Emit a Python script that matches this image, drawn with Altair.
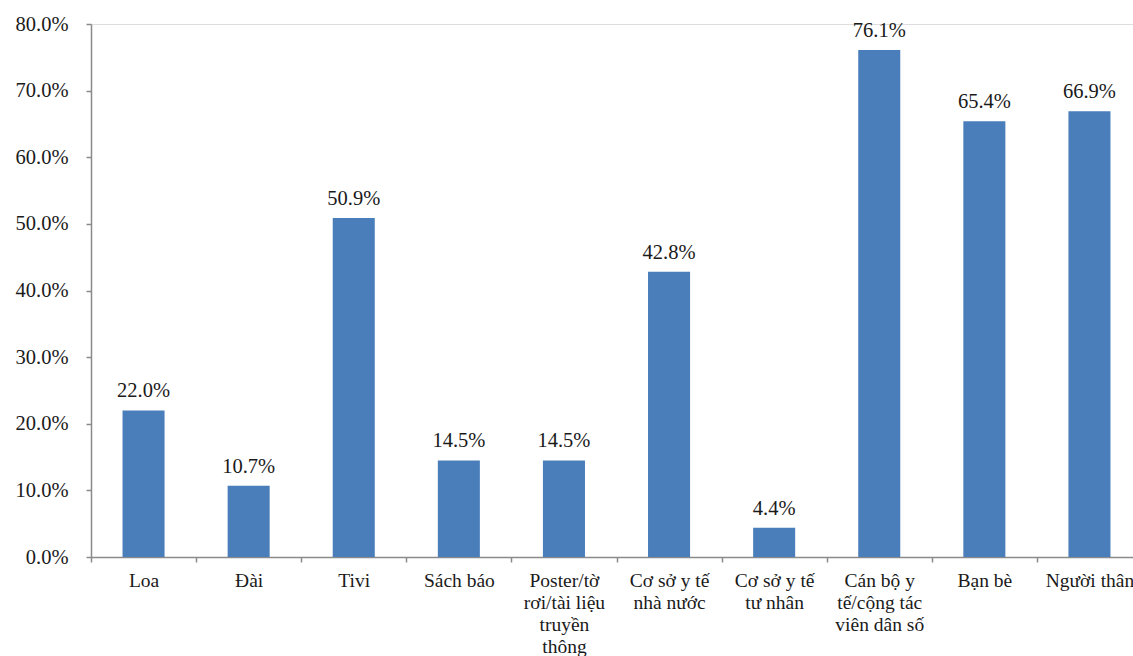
import altair as alt
import pandas as pd

# Information sources and share of respondents (%)
categories = [
    "Loa",
    "Đài",
    "Tivi",
    "Sách báo",
    "Poster/tờ\nrơi/tài liệu\ntruyền\nthông",
    "Cơ sở y tế\nnhà nước",
    "Cơ sở y tế\ntư nhân",
    "Cán bộ y\ntế/cộng tác\nviên dân số",
    "Bạn bè",
    "Người thân",
]
values = [22.0, 10.7, 50.9, 14.5, 14.5, 42.8, 4.4, 76.1, 65.4, 66.9]

df = pd.DataFrame({"source": categories, "pct": values})
df["label"] = df["pct"].map(lambda v: f"{v:.1f}%")

FONT = "Liberation Serif"
AXIS_GRAY = "#8a8a8a"
TEXT = "#1a1a1a"

# the category axis runs a little past the right edge of the page
x_scale = alt.Scale(paddingInner=0, paddingOuter=0, range=[0, 1051])

x = alt.X(
    "source:N",
    sort=categories,
    scale=x_scale,
    axis=alt.Axis(
        title=None,
        labelAngle=0,
        labelExpr="split(datum.label, '\\n')",
        labelFont=FONT,
        labelFontSize=19.5,
        labelColor=TEXT,
        labelLineHeight=22,
        labelPadding=9,
        labelLimit=300,
        tickBand="extent",
        tickSize=5,
        tickColor=AXIS_GRAY,
        tickWidth=1.5,
        domainColor=AXIS_GRAY,
        domainWidth=1.5,
    ),
)

y = alt.Y(
    "pct:Q",
    scale=alt.Scale(domain=[0, 80], nice=False),
    axis=alt.Axis(
        title=None,
        values=[0, 10, 20, 30, 40, 50, 60, 70, 80],
        labelExpr="format(datum.value, '.1f') + '%'",
        labelFont=FONT,
        labelFontSize=20.5,
        labelColor=TEXT,
        labelPadding=18,
        tickSize=5,
        tickColor=AXIS_GRAY,
        tickWidth=1.5,
        domainColor=AXIS_GRAY,
        domainWidth=1.5,
        grid=False,
    ),
)

bars = alt.Chart(df).mark_bar(
    color="#4A7EBB", width=alt.RelativeBandSize(0.4)
).encode(x=x, y=y)

labels = alt.Chart(df).mark_text(
    font=FONT, fontSize=20.5, color=TEXT, baseline="alphabetic", dy=-13
).encode(x=alt.X("source:N", sort=categories), y="pct:Q", text="label:N")

chart = (
    alt.layer(bars, labels)
    .properties(
        width=1042,
        height=533,
        autosize=alt.AutoSizeParams(type="none"),
        padding={"left": 91, "top": 24, "right": 0, "bottom": 99},
    )
    .configure_view(stroke=None)
    .configure(background="white")
)

chart.save("out.html", embed_options={"renderer": "svg", "actions": False})
